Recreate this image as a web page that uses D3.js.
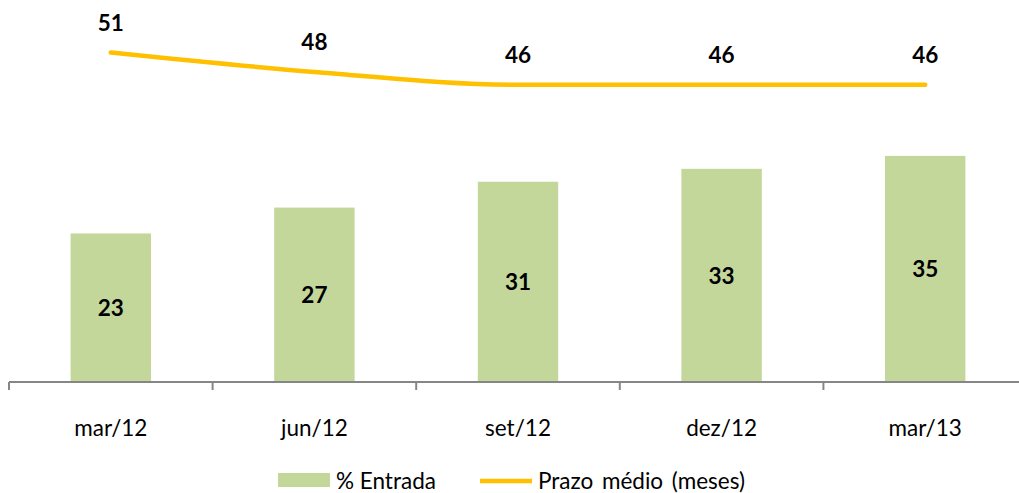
<!DOCTYPE html>
<html>
<head>
<meta charset="utf-8">
<script src="https://cdn.jsdelivr.net/npm/d3@7"></script>
<style>
  html,body{margin:0;padding:0;background:#fff;}
  svg{display:block;font-family:Lato,"Open Sans",sans-serif;}
</style>
</head>
<body>
<svg id="chart" width="1019" height="493"></svg>
<script>
// dados
const categorias = ['mar/12','jun/12','set/12','dez/12','mar/13'];
const entrada    = [23, 27, 31, 33, 35];      // % Entrada (barras)
const prazo      = [51, 48, 46, 46, 46];      // Prazo médio (meses)

const W = 1019, H = 493;
const svg = d3.select('#chart');

const BASE = 382;
const x = d3.scaleBand().domain(categorias).range([9, 9 + 5*203.6]).paddingInner(0.605).paddingOuter(0.3025);
const y = d3.scaleLinear().domain([0, 35]).range([BASE, BASE - 35*6.46]);

/* barras */
svg.append('g').selectAll('rect')
  .data(entrada).join('rect')
    .attr('x',(d,i)=>x(categorias[i]))
    .attr('y',d=>y(d))
    .attr('width',x.bandwidth())
    .attr('height',d=>BASE-y(d))
    .attr('fill','#c4d79b');

svg.append('g').selectAll('text')
  .data(entrada).join('text')
    .attr('x',(d,i)=>x(categorias[i])+x.bandwidth()/2)
    .attr('y',d=>(y(d)+BASE)/2)
    .attr('dy','0.36em')
    .attr('text-anchor','middle')
    .attr('font-size','22.5px').attr('font-weight','bold')
    .attr('fill','#000')
    .text(d=>d);

/* eixo */
const axisG = svg.append('g');
axisG.append('line')
  .attr('x1',9).attr('x2',W).attr('y1',BASE).attr('y2',BASE)
  .attr('stroke','#868686').attr('stroke-width',2);
const step = x.step();
axisG.selectAll('line.tick')
  .data(d3.range(categorias.length)).join('line')
    .attr('class','tick')
    .attr('x1',i=>9+i*step).attr('x2',i=>9+i*step)
    .attr('y1',BASE).attr('y2',BASE+8)
    .attr('stroke','#868686').attr('stroke-width',2);
axisG.selectAll('text')
  .data(categorias).join('text')
    .attr('x',d=>x(d)+x.bandwidth()/2)
    .attr('y',436)
    .attr('text-anchor','middle')
    .attr('font-size','22.5px').attr('fill','#000')
    .text(d=>d);

/* linha */
const cx = i=>x(categorias[i])+x.bandwidth()/2;
const line = d3.line()
  .x((d,i)=>cx(i))
  .y(d=>y(d))
  .curve(d3.curveMonotoneX);
svg.append('path')
  .datum(prazo)
  .attr('d',line)
  .attr('fill','none')
  .attr('stroke','#ffc000')
  .attr('stroke-width',4.5)
  .attr('stroke-linecap','round');

svg.append('g').selectAll('text')
  .data(prazo).join('text')
    .attr('x',(d,i)=>cx(i))
    .attr('y',d=>y(d)-22)
    .attr('text-anchor','middle')
    .attr('font-size','22.5px').attr('font-weight','bold')
    .attr('fill','#000')
    .text(d=>d);

/* legenda */
const leg = svg.append('g');
leg.append('rect').attr('x',278).attr('y',473).attr('width',52).attr('height',14).attr('fill','#c4d79b');
leg.append('text').attr('x',336).attr('y',489).attr('font-size','22.5px').text('% Entrada');
leg.append('line').attr('x1',480).attr('x2',532).attr('y1',481).attr('y2',481)
  .attr('stroke','#ffc000').attr('stroke-width',4.5);
leg.append('text').attr('x',538).attr('y',489).attr('font-size','22.5px')
  .attr('word-spacing','3px').text('Prazo médio (meses)');
</script>
</body>
</html>
